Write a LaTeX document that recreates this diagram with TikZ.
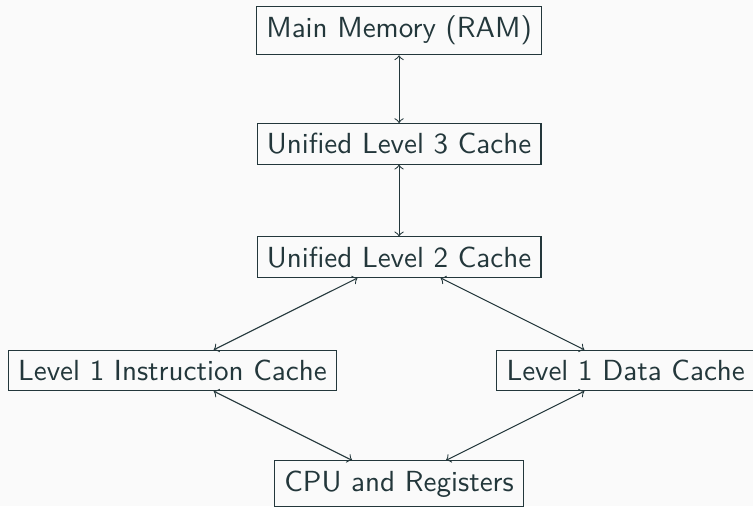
\documentclass[tikz,border=0pt]{standalone}
\usepackage{tikz}
\usetikzlibrary{arrows,positioning}
\definecolor{darkteal}{HTML}{23373B}
\definecolor{paper}{HTML}{FAFAFA}
\tikzstyle{cache} =[rectangle, draw=darkteal, text=darkteal,
                    font=\fontsize{10.95}{13}\sffamily,
                    inner sep=3.65pt, line width=0.4pt]
\tikzstyle{link}  =[<->, >=to, draw=darkteal,
                    line width=0.4pt]

\begin{document}
\begin{tikzpicture}[every node/.style={cache}, node
            distance=1.5cm, on grid]
    \fill[paper] (-150.3pt,11.5pt) rectangle (133.3pt,-179.1pt);
    \useasboundingbox (-150.3pt,11.5pt) rectangle (133.3pt,-179.1pt);
    % memory hierarchy, top to bottom
    \node (ram) {Main Memory (RAM)};
    \node (l3) [below= of ram] {Unified Level 3 Cache};
    \node (l2) [below= of l3] {Unified Level 2 Cache};
    \node (l1i) [below left=1.5cm and 3cm of l2] {Level 1 Instruction Cache};
    \node (l1d) [below right=1.5cm and 3cm of l2] {Level 1 Data Cache};
    \node (cpu) [below right=1.5cm and 3cm of l1i] {CPU and Registers};
    \draw[link] (ram) to (l3);
    \draw[link] (l3) to (l2);
    \draw[link] (l2) to (l1i);
    \draw[link] (l2) to (l1d);
    \draw[link] (l1i) to (cpu);
    \draw[link] (l1d) to (cpu);
\end{tikzpicture}
\end{document}
